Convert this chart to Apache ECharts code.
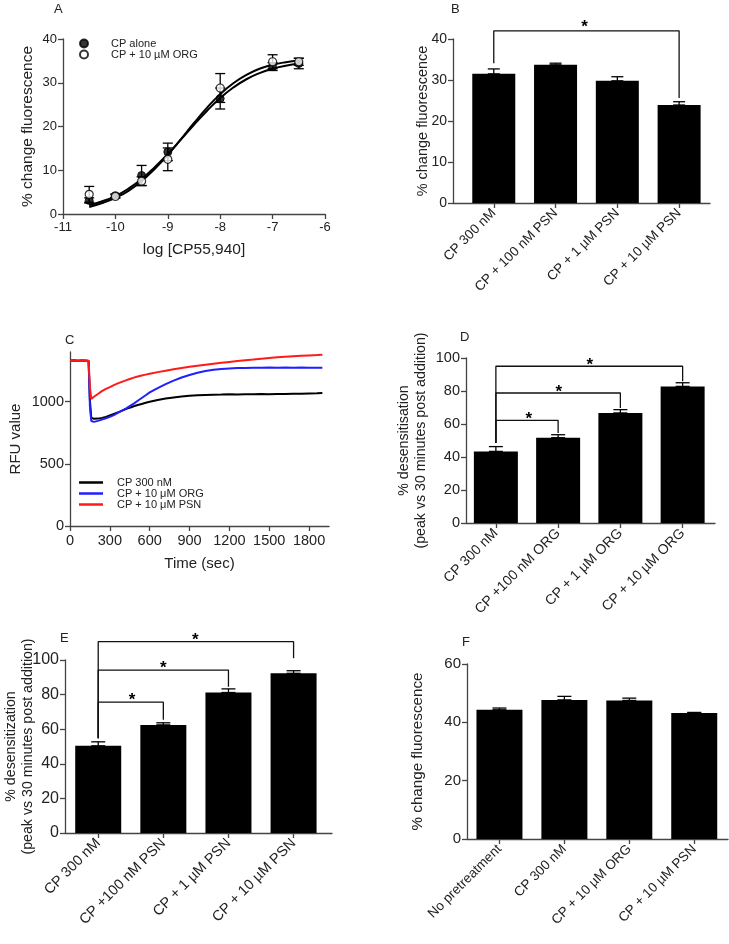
<!DOCTYPE html>
<html>
<head>
<meta charset="utf-8">
<script src="https://cdn.jsdelivr.net/npm/echarts@6/dist/echarts.min.js"></script>
<style>
  html, body { margin: 0; padding: 0; background: #fff; }
  #chart { width: 729px; height: 944px; }
</style>
</head>
<body>
<div id="chart"></div>
<script>
// ---- Panel A: concentration-response ----
const aLogConc = [-10.5, -10, -9.5, -9, -8, -7, -6.5];
const aAlone = [3.1, 4.2, 8.8, 14.2, 26.4, 33.7, 34.4];
const aAloneErr = [0.6, 0.4, 2.3, 2.0, 2.4, 0.9, 1.2];
const aOrg = [4.5, 4.0, 7.5, 12.5, 28.8, 34.8, 34.8];
const aOrgErr = [1.8, 0.4, 1.0, 2.6, 3.3, 1.6, 0.8];
// fitted curves
const aFitX = [-10.5, -10.25, -10, -9.75, -9.5, -9.25, -9, -8.75, -8.5, -8.25, -8, -7.75, -7.5, -7.25, -7, -6.75, -6.5];
const aFitAlone = [2.0, 2.9, 4.1, 5.8, 8.0, 10.7, 13.7, 17.0, 20.4, 23.6, 26.5, 28.9, 30.8, 32.2, 33.2, 33.9, 34.4];
const aFitOrg = [1.6, 2.5, 3.7, 5.3, 7.5, 10.3, 13.5, 17.1, 20.8, 24.3, 27.4, 29.9, 31.8, 33.2, 34.1, 34.7, 35.1];

// ---- Panel B ----
const bCats = ['CP 300 nM', 'CP + 100 nM PSN', 'CP + 1 \u00b5M PSN', 'CP + 10 \u00b5M PSN'];
const bVals = [31.5, 33.7, 29.8, 23.9];
const bErr = [1.2, 0.4, 1.0, 0.8];
const bBrackets = [[0, 3, 42.0, 34.1, 25.6]];
const bStars = [[1.47, 43.6]];

// ---- Panel C: RFU traces ----
const cTime = [0, 30, 60, 90, 120, 140, 150, 160, 180, 210, 240, 270, 300, 330, 360, 390, 420, 450, 480, 510, 540, 570, 600,
  660, 720, 780, 840, 900, 960, 1020, 1080, 1140, 1200, 1260, 1320, 1380, 1440, 1500, 1560, 1620, 1680, 1740, 1800, 1860, 1900];
const cCP = [1330, 1332, 1329, 1331, 1330, 1328, 1010, 872, 862, 864, 870, 878, 890, 902, 914, 926, 940, 952, 963, 973, 982, 991, 999,
  1013, 1025, 1034, 1042, 1048, 1052, 1055, 1057, 1058, 1060, 1058, 1061, 1060, 1062, 1061, 1063, 1062, 1065, 1064, 1067, 1069, 1071];
const cORG = [1331, 1333, 1330, 1332, 1331, 1329, 960, 845, 838, 846, 856, 866, 878, 892, 910, 928, 945, 965, 985, 1008, 1030, 1052, 1075,
  1110, 1142, 1170, 1195, 1215, 1233, 1247, 1257, 1264, 1268, 1271, 1272, 1274, 1273, 1275, 1274, 1276, 1274, 1275, 1273, 1274, 1274];
const cPSN = [1330, 1332, 1329, 1331, 1330, 1328, 1120, 1022, 1040, 1062, 1085, 1103, 1118, 1133, 1147, 1160, 1172, 1183, 1194, 1203, 1211, 1218, 1225,
  1238, 1250, 1261, 1271, 1281, 1290, 1298, 1306, 1313, 1320, 1327, 1333, 1339, 1346, 1352, 1357, 1361, 1365, 1369, 1372, 1375, 1378];
const cNames = ['CP 300 nM', 'CP + 10 \u03bcM ORG', 'CP + 10 \u03bcM PSN'];
const cTicksX = [0, 300, 600, 900, 1200, 1500, 1800];
const cTicksY = [0, 500, 1000];

// ---- Panel D ----
const dCats = ['CP 300 nM', 'CP +100 nM ORG', 'CP + 1 \u00b5M ORG', 'CP + 10 \u00b5M ORG'];
const dVals = [43.4, 51.7, 66.7, 82.8];
const dErr = [2.9, 1.8, 2.0, 2.2];
const dBrackets = [[0, 1, 62.2, 48.5, 54.5], [0, 2, 78.8, 48.5, 69.7], [0, 3, 95, 48.5, 85.9]];
const dStars = [[0.53, 64.4], [1.01, 81.2], [1.51, 97.6]];

// ---- Panel E ----
const eCats = ['CP 300 nM', 'CP +100 nM PSN', 'CP + 1 \u00b5M PSN', 'CP + 10 \u00b5M PSN'];
const eVals = [50.4, 62.5, 81.2, 92.3];
const eErr = [2.3, 1.2, 2.1, 1.5];
const eBrackets = [[0, 1, 75.6, 54.8, 65.4], [0, 2, 94.2, 54.8, 84.6], [0, 3, 110.6, 54.8, 101]];
const eStars = [[0.52, 78.3], [1.0, 96.9], [1.49, 113]];

// ---- Panel F ----
const fCats = ['No pretreatment', 'CP 300 nM', 'CP + 10 \u00b5M ORG', 'CP + 10 \u00b5M PSN'];
const fVals = [44.3, 47.7, 47.5, 43.2];
const fErr = [0.6, 1.2, 0.8, 0.2];

const FONT = 'Liberation Sans';
const AXIS = '#444';
const TXT = '#222';

const chart = echarts.init(document.getElementById('chart'));

function axisBase() {
  return {
    type: 'value',
    nameMoveOverlap: false,
    splitLine: { show: false },
    axisLine: { show: true, onZero: false, lineStyle: { color: AXIS, width: 1.3 } },
    axisTick: { show: true, inside: false, length: 5, lineStyle: { color: AXIS, width: 1.3 } }
  };
}

function yAxis(grid, min, max, interval, name, nameGap, fs, nfs, custom) {
  const ax = axisBase();
  Object.assign(ax, {
    gridIndex: grid, min: min, max: max,
    name: name, nameLocation: 'middle', nameRotate: 90, nameGap: nameGap,
    nameTextStyle: { color: TXT, fontSize: nfs, fontFamily: FONT, lineHeight: nfs + 3 },
    axisLabel: { color: TXT, fontSize: fs, fontFamily: FONT, margin: 6, formatter: v => String(v) }
  });
  if (interval) ax.interval = interval;
  if (custom) {
    ax.axisLabel.customValues = custom;
    ax.axisTick.customValues = custom;
  }
  return ax;
}

function catXAxis(grid, min, max, cats, fs) {
  const ax = axisBase();
  const idx = cats.map((c, i) => i);
  Object.assign(ax, { gridIndex: grid, min: min, max: max });
  ax.axisTick.customValues = idx;
  ax.axisLabel = {
    customValues: idx, rotate: 45, color: TXT, fontSize: fs, fontFamily: FONT, margin: 8,
    formatter: v => cats[Math.round(v)]
  };
  return ax;
}

function bars(i, vals, w) {
  return {
    type: 'bar', xAxisIndex: i, yAxisIndex: i, barWidth: w, silent: true,
    itemStyle: { color: '#000' },
    data: vals.map((v, k) => [k, v])
  };
}

function errBars(i, xs, lo, hi, cap, z) {
  return {
    type: 'custom', xAxisIndex: i, yAxisIndex: i, silent: true, z: z || 3,
    data: xs.map((x, k) => [x, lo[k], hi[k]]),
    renderItem: (params, api) => {
      const a = api.coord([api.value(0), api.value(1)]);
      const b = api.coord([api.value(0), api.value(2)]);
      const st = { stroke: '#000', lineWidth: 1.3 };
      return {
        type: 'group', children: [
          { type: 'line', shape: { x1: a[0], y1: a[1], x2: b[0], y2: b[1] }, style: st },
          { type: 'line', shape: { x1: b[0] - cap, y1: b[1], x2: b[0] + cap, y2: b[1] }, style: st },
          { type: 'line', shape: { x1: a[0] - cap, y1: a[1], x2: a[0] + cap, y2: a[1] }, style: st }
        ]
      };
    }
  };
}

function barErr(i, vals, errs, cap) {
  // only the upper half shows above the black bars
  return errBars(i, vals.map((v, k) => k), vals, vals.map((v, k) => v + errs[k]), cap, 4);
}

function brackets(i, list) {
  return list.map(b => ({
    type: 'line', xAxisIndex: i, yAxisIndex: i, symbol: 'none', clip: false, silent: true,
    lineStyle: { color: '#111', width: 1.3 },
    data: [[b[0], b[3]], [b[0], b[2]], [b[1], b[2]], [b[1], b[4]]]
  }));
}

function stars(i, list) {
  return {
    type: 'custom', xAxisIndex: i, yAxisIndex: i, silent: true, z: 5,
    data: list,
    renderItem: (params, api) => {
      const p = api.coord([api.value(0), api.value(1)]);
      return {
        type: 'text', x: p[0], y: p[1] + 3,
        style: { text: '*', fill: '#000', font: 'bold 17px ' + FONT, align: 'center', verticalAlign: 'middle' }
      };
    }
  };
}

const letter = (t, l, top) => ({
  text: t, left: l, top: top, padding: 0,
  textStyle: { fontSize: 13, fontWeight: 'normal', color: TXT, fontFamily: FONT }
});

const aX = axisBase();
Object.assign(aX, {
  gridIndex: 0, min: -11, max: -6, interval: 1,
  name: 'log [CP55,940]', nameLocation: 'middle', nameGap: 28,
  nameTextStyle: { color: TXT, fontSize: 15.5, fontFamily: FONT },
  axisLabel: { color: TXT, fontSize: 13, fontFamily: FONT, margin: 7 }
});

const cX = axisBase();
Object.assign(cX, {
  gridIndex: 2, min: 0, max: 1950,
  name: 'Time (sec)', nameLocation: 'middle', nameGap: 30,
  nameTextStyle: { color: TXT, fontSize: 15, fontFamily: FONT },
  axisLabel: { color: TXT, fontSize: 14.5, fontFamily: FONT, margin: 7, customValues: cTicksX, formatter: v => String(v) }
});
cX.axisTick.customValues = cTicksX;

const option = {
  animation: false,
  backgroundColor: '#fff',
  textStyle: { fontFamily: FONT },
  title: [letter('A', 54, 3), letter('B', 451, 3), letter('C', 65, 334), letter('D', 460, 331), letter('E', 60, 632), letter('F', 462, 636)],
  legend: [
    {
      left: 79, top: 38, orient: 'vertical', padding: 0, itemGap: 0, itemWidth: 8, itemHeight: 8, selectedMode: false,
      data: ['CP alone', 'CP + 10 \u00b5M ORG'],
      textStyle: { fontSize: 11, lineHeight: 10, color: TXT, fontFamily: FONT, padding: [0, 0, 0, 18] }
    },
    {
      left: 79, top: 477, orient: 'vertical', padding: 0, itemGap: 0, itemWidth: 24, itemHeight: 2.5, selectedMode: false,
      icon: 'rect',
      data: cNames,
      textStyle: { fontSize: 11, lineHeight: 10, color: TXT, fontFamily: FONT, padding: [0, 0, 0, 9] }
    }
  ],
  grid: [
    { left: 63, top: 39, width: 262, height: 175, outerBoundsMode: 'none' },
    { left: 453, top: 39, width: 257, height: 164, outerBoundsMode: 'none' },
    { left: 70, top: 352, width: 259, height: 174, outerBoundsMode: 'none' },
    { left: 466, top: 358, width: 249, height: 165, outerBoundsMode: 'none' },
    { left: 65, top: 660, width: 267, height: 173, outerBoundsMode: 'none' },
    { left: 467, top: 664, width: 261, height: 175, outerBoundsMode: 'none' }
  ],
  xAxis: [
    aX,
    catXAxis(1, -0.66, 3.5, bCats, 13.5),
    cX,
    catXAxis(3, -0.48, 3.52, dCats, 14),
    catXAxis(4, -0.51, 3.59, eCats, 14.5),
    catXAxis(5, -0.5, 3.52, fCats, 13.5)
  ],
  yAxis: [
    yAxis(0, 0, 40, 10, '% change fluorescence', 26, 13, 15.5),
    yAxis(1, 0, 40, 10, '% change fluorescence', 21, 14, 14.5),
    yAxis(2, 0, 1400, null, 'RFU value', 45, 14.5, 15, cTicksY),
    yAxis(3, 0, 100, 20, '% desensitisation\n(peak vs 30 minutes post addition)', 36, 14.5, 14.2),
    yAxis(4, 0, 100, 20, '% desensitization\n(peak vs 30 minutes post addition)', 28, 16, 14.2),
    yAxis(5, 0, 60, 20, '% change fluorescence', 40, 15, 15.2)
  ],
  series: [
    // A
    { type: 'line', xAxisIndex: 0, yAxisIndex: 0, smooth: true, symbol: 'none', silent: true,
      lineStyle: { color: '#000', width: 2 }, data: aFitX.map((x, k) => [x, aFitAlone[k]]) },
    { type: 'line', xAxisIndex: 0, yAxisIndex: 0, smooth: true, symbol: 'none', silent: true,
      lineStyle: { color: '#000', width: 2 }, data: aFitX.map((x, k) => [x, aFitOrg[k]]) },
    errBars(0, aLogConc, aAlone.map((v, k) => v - aAloneErr[k]), aAlone.map((v, k) => v + aAloneErr[k]), 5),
    errBars(0, aLogConc, aOrg.map((v, k) => v - aOrgErr[k]), aOrg.map((v, k) => v + aOrgErr[k]), 5),
    { name: 'CP alone', type: 'scatter', xAxisIndex: 0, yAxisIndex: 0, symbol: 'circle', symbolSize: 8, z: 6,
      itemStyle: { color: '#000', borderColor: '#000', borderWidth: 1 }, data: aLogConc.map((x, k) => [x, aAlone[k]]) },
    { name: 'CP + 10 \u00b5M ORG', type: 'scatter', xAxisIndex: 0, yAxisIndex: 0, symbol: 'circle', symbolSize: 8, z: 7,
      itemStyle: { color: '#fff', borderColor: '#000', borderWidth: 1.2 }, data: aLogConc.map((x, k) => [x, aOrg[k]]) },
    // B
    bars(1, bVals, 43),
    barErr(1, bVals, bErr, 6),
    ...brackets(1, bBrackets),
    stars(1, bStars),
    // C
    { name: cNames[0], type: 'line', xAxisIndex: 2, yAxisIndex: 2, symbol: 'none', silent: true,
      lineStyle: { color: '#000', width: 2 }, itemStyle: { color: '#000' }, data: cTime.map((t, k) => [t, cCP[k]]) },
    { name: cNames[1], type: 'line', xAxisIndex: 2, yAxisIndex: 2, symbol: 'none', silent: true,
      lineStyle: { color: '#1f1fff', width: 2 }, itemStyle: { color: '#1f1fff' }, data: cTime.map((t, k) => [t, cORG[k]]) },
    { name: cNames[2], type: 'line', xAxisIndex: 2, yAxisIndex: 2, symbol: 'none', silent: true,
      lineStyle: { color: '#ff1a1a', width: 2 }, itemStyle: { color: '#ff1a1a' }, data: cTime.map((t, k) => [t, cPSN[k]]) },
    // D
    bars(3, dVals, 44),
    barErr(3, dVals, dErr, 7),
    ...brackets(3, dBrackets),
    stars(3, dStars),
    // E
    bars(4, eVals, 46),
    barErr(4, eVals, eErr, 7),
    ...brackets(4, eBrackets),
    stars(4, eStars),
    // F
    bars(5, fVals, 46),
    barErr(5, fVals, fErr, 7)
  ]
};

chart.setOption(option);
</script>
</body>
</html>
